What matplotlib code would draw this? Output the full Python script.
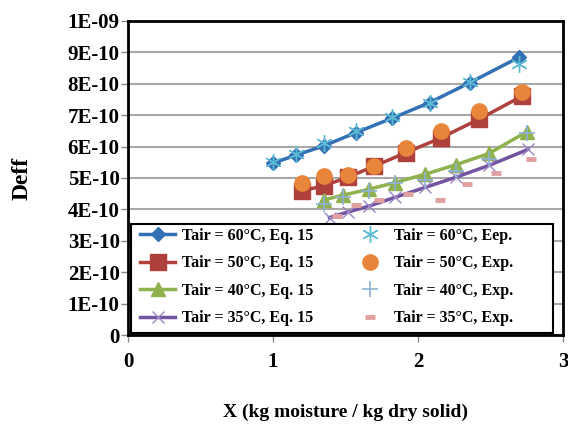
import matplotlib
matplotlib.use('Agg')
import matplotlib.pyplot as plt
from matplotlib.patches import Rectangle
from matplotlib.ticker import FuncFormatter, MultipleLocator

plt.rcParams['font.family'] = ['Liberation Serif', 'DejaVu Serif']
plt.rcParams['font.weight'] = 'bold'

# Moisture content X (kg moisture / kg dry solid)
x_60 = [1.00, 1.16, 1.35, 1.57, 1.82, 2.08, 2.36, 2.70]
x_50 = [1.20, 1.35, 1.52, 1.70, 1.92, 2.16, 2.42, 2.72]
x_40 = [1.35, 1.48, 1.66, 1.84, 2.05, 2.26, 2.49, 2.75]
x_35 = [1.39, 1.52, 1.66, 1.84, 2.05, 2.26, 2.49, 2.76]
x_35_exp = [1.44, 1.57, 1.73, 1.93, 2.15, 2.34, 2.54, 2.78]

# Effective diffusivity, model (Eq. 15)
deff_60 = [5.47e-10, 5.73e-10, 6.02e-10, 6.44e-10, 6.90e-10, 7.40e-10, 8.04e-10, 8.85e-10]
deff_50 = [4.59e-10, 4.75e-10, 5.03e-10, 5.38e-10, 5.81e-10, 6.28e-10, 6.87e-10, 7.61e-10]
deff_40 = [4.30e-10, 4.45e-10, 4.64e-10, 4.85e-10, 5.12e-10, 5.42e-10, 5.78e-10, 6.47e-10]
deff_35 = [3.74e-10, 3.92e-10, 4.10e-10, 4.38e-10, 4.70e-10, 5.02e-10, 5.40e-10, 5.91e-10]

# Effective diffusivity, experimental
exp_60 = [5.50e-10, 5.75e-10, 6.10e-10, 6.50e-10, 6.95e-10, 7.40e-10, 8.05e-10, 8.62e-10]
exp_50 = [4.85e-10, 5.06e-10, 5.10e-10, 5.38e-10, 5.97e-10, 6.50e-10, 7.13e-10, 7.75e-10]
exp_40 = [4.16e-10, 4.40e-10, 4.60e-10, 4.85e-10, 4.92e-10, 5.22e-10, 5.60e-10, 6.44e-10]
exp_35 = [3.79e-10, 4.14e-10, 4.29e-10, 4.48e-10, 4.30e-10, 4.80e-10, 5.17e-10, 5.59e-10]

fig = plt.figure(figsize=(5.68, 4.32), dpi=100)
ax = fig.add_axes([0.2254, 0.2245, 0.7656, 0.7270])

ax.plot(x_60, deff_60, color='#3470b4', lw=2.5, marker='D', ms=7,
        label='Tair = 60°C, Eq. 15', zorder=3)
ax.plot(x_50, deff_50, color='#b0403c', lw=2.5, marker='s', ms=11,
        label='Tair = 50°C, Eq. 15', zorder=3)
ax.plot(x_40, deff_40, color='#8fb24e', lw=2.5, marker='^', ms=10,
        label='Tair = 40°C, Eq. 15', zorder=3)
ax.plot(x_35, deff_35, color='#7254a0', lw=2.5, marker='x', ms=9, mew=1,
        mec='#9a86c4', label='Tair = 35°C, Eq. 15', zorder=3)

ax.plot(x_60, exp_60, ls='none', marker=(6, 2, 0), ms=12, mew=1,
        color='#5cbad4', label='Tair = 60°C, Eep.', zorder=4)
ax.plot(x_50, exp_50, ls='none', marker='o', ms=11, color='#e8853a',
        label='Tair = 50°C, Exp.', zorder=4)
ax.plot(x_40, exp_40, ls='none', marker='+', ms=11, mew=1.2,
        color='#8fb0d8', label='Tair = 40°C, Exp.', zorder=4)
ax.plot(x_35_exp, exp_35, ls='none', marker='_', ms=7, mew=3.5,
        color='#e0a0a0', label='Tair = 35°C, Exp.', zorder=4)

ax.set_xlim(0, 3)
ax.set_ylim(0, 1e-9)
ax.xaxis.set_major_locator(MultipleLocator(1))
ax.yaxis.set_major_locator(MultipleLocator(1e-10))
ax.yaxis.set_major_formatter(
    FuncFormatter(lambda v, pos: '0' if abs(v) < 1e-14 else f'{v:.0E}'))
ax.grid(axis='y', color='#a8a8a8', lw=1.5, zorder=0)

ax.tick_params(axis='both', labelsize=15, length=5, width=1, color='#888888')
ax.tick_params(axis='x', pad=7)
ax.tick_params(axis='y', pad=1)
for lbl in ax.get_xticklabels() + ax.get_yticklabels():
    lbl.set_fontweight('bold')
for spine in ax.spines.values():
    spine.set_linewidth(2)
    spine.set_color('black')

ax.set_xlabel('X (kg moisture / kg dry solid)', fontsize=14,
              fontweight='bold', labelpad=23)
ax.set_ylabel('Deff', fontsize=17, fontweight='bold', labelpad=25)

# Legend box drawn as its own frame, entries placed inside it
ax.add_patch(Rectangle((0.007, 0.006), 0.970, 0.346, transform=ax.transAxes,
                       facecolor='white', edgecolor='black', lw=1.5, zorder=5))
leg = ax.legend(ncol=2, loc='upper left', bbox_to_anchor=(0.0276, 0.342),
                prop={'size': 11.5, 'weight': 'bold'}, frameon=False,
                handlelength=2.2, handletextpad=0.4, columnspacing=2.45,
                labelspacing=0.72, borderpad=0, borderaxespad=0)
leg.set_zorder(6)

fig.savefig('out.png', dpi=100)
